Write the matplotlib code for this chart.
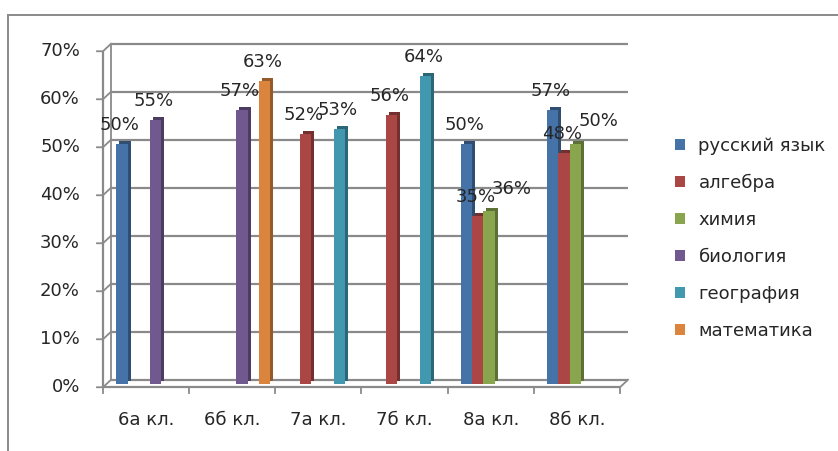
import numpy as np
import matplotlib
matplotlib.use('Agg')
import matplotlib.pyplot as plt
from matplotlib.transforms import ScaledTranslation, IdentityTransform
from matplotlib.patches import Rectangle, Patch
import matplotlib.colors as mcolors

# ---------------- data ----------------
categories = ['6а кл.', '6б кл.', '7а кл.', '7б кл.', '8а кл.', '8б кл.']
series_names = ['русский язык', 'алгебра', 'химия', 'биология', 'география', 'математика']
nan = np.nan
russian = [50, nan, nan, nan, 50, 57]
algebra = [nan, nan, 52, 56, 35, 48]
chemistry = [nan, nan, nan, nan, 36, 50]
biology = [55, 57, nan, nan, nan, nan]
geography = [nan, nan, 53, 64, nan, nan]
maths = [nan, 63, nan, nan, nan, nan]
y_ticks = [0, 10, 20, 30, 40, 50, 60, 70]
y_ticklabels = ['0%', '10%', '20%', '30%', '40%', '50%', '60%', '70%']

series_values = [russian, algebra, chemistry, biology, geography, maths]
colors = ['#4572A7', '#AA4643', '#89A54E', '#71588F', '#4198AF', '#DB843D']
label_nudge = [(-2, 19), (-2, 19), (23, 22), (-2, 19), (-2, 19), (-2, 19)]

# ---------------- figure ----------------
W, H, DPI = 838, 451, 100
fig = plt.figure(figsize=(W / DPI, H / DPI), dpi=DPI)
plt.rcParams['font.family'] = ['DejaVu Sans']
TXT = '#262626'
GRID = '#8a8a8a'
FS = 13

# mid-plane axes (pixels)
left_px, right_px = 107, 624
y0_px, y70_px = 383.5, 47.5
ax = fig.add_axes([left_px / W, (H - y0_px) / H, (right_px - left_px) / W, (y0_px - y70_px) / H])
ax.set_xlim(-0.5, len(categories) - 0.5)
ax.set_ylim(0, 70)
ax.axis('off')

DX, DY = 4.0, 3.75  # half depth offset in pixels (display coords, y up)


def off(dx, dy):
    return ax.transData + ScaledTranslation(dx / DPI, dy / DPI, fig.dpi_scale_trans)


xmin, xmax = -0.5, len(categories) - 0.5
back = off(DX, DY)
front = off(-DX, -DY)

# back wall gridlines and left wall edge
ax.hlines(y_ticks, xmin, xmax, colors=GRID, lw=1.6, transform=back, zorder=1, clip_on=False)
ax.vlines(xmin, 0, 70, colors=GRID, lw=1.3, transform=back, zorder=1, clip_on=False)

# front axes
ax.hlines(0, xmin, xmax, colors=GRID, lw=1.6, transform=front, zorder=2, clip_on=False)
ax.vlines(xmin, 0, 70, colors=GRID, lw=1.6, transform=front, zorder=2, clip_on=False)

ident = IdentityTransform()
# connectors between front axis ticks and back wall, plus tick marks
for yv, lab in zip(y_ticks, y_ticklabels):
    px, py = ax.transData.transform((xmin, yv))
    ax.plot([px - DX - 6, px - DX, px + DX], [py - DY, py - DY, py + DY],
            color=GRID, lw=1.3, transform=ident, zorder=1, clip_on=False)
    ax.text(xmin, yv, lab, transform=off(-DX - 23, -DY),
            ha='right', va='center', fontsize=FS, color=TXT)
# right floor edge
px, py = ax.transData.transform((xmax, 0))
ax.plot([px - DX, px + DX], [py - DY, py + DY], color=GRID, lw=1.3, transform=ident, clip_on=False)
# category ticks
for k in range(len(categories) + 1):
    px, py = ax.transData.transform((xmin + k, 0))
    ax.plot([px - DX, px - DX], [py - DY, py - DY - 6], color=GRID, lw=1.3,
            transform=ident, clip_on=False)
for i, c in enumerate(categories):
    ax.text(i, 0, c, transform=off(-DX, -DY - 33), ha='center', va='center',
            fontsize=FS, color=TXT)

# bars
n = len(series_names)
w = 0.131
x = np.arange(len(categories))
handles = []
for s, (name, vals, col) in enumerate(zip(series_names, series_values, colors)):
    pos = x + (s - (n - 1) / 2) * w
    dark = tuple(np.array(mcolors.to_rgb(col)) * 0.68)
    ax.bar(pos, vals, width=w, color=dark, transform=off(3, 3), zorder=3 + 2 * s,
           clip_on=False, linewidth=0)
    ax.bar(pos, vals, width=w, color=col, zorder=4 + 2 * s, clip_on=False, linewidth=0)
    handles.append(Patch(facecolor=col, label=name))
    for p, v in zip(pos, vals):
        if np.isnan(v):
            continue
        ax.annotate(f'{v:.0f}%', (p, v), xytext=label_nudge[s], textcoords='offset pixels',
                    ha='center', va='center', fontsize=FS, color=TXT, zorder=30)

# legend
fig.legend(handles=handles, loc='upper left', bbox_to_anchor=(675 / W, 1 - 137 / H),
           frameon=False, handlelength=0.55, handleheight=0.55, handletextpad=0.75,
           labelspacing=1.05, fontsize=FS, borderaxespad=0, borderpad=0, labelcolor=TXT)

# outer frame
fig.patches.append(Rectangle((8 / W, -0.05), 1.2, (H - 15) / H + 0.05, transform=fig.transFigure,
                             fill=False, edgecolor='#8a8a8a', lw=1.4))

fig.savefig('out.png', dpi=DPI)
